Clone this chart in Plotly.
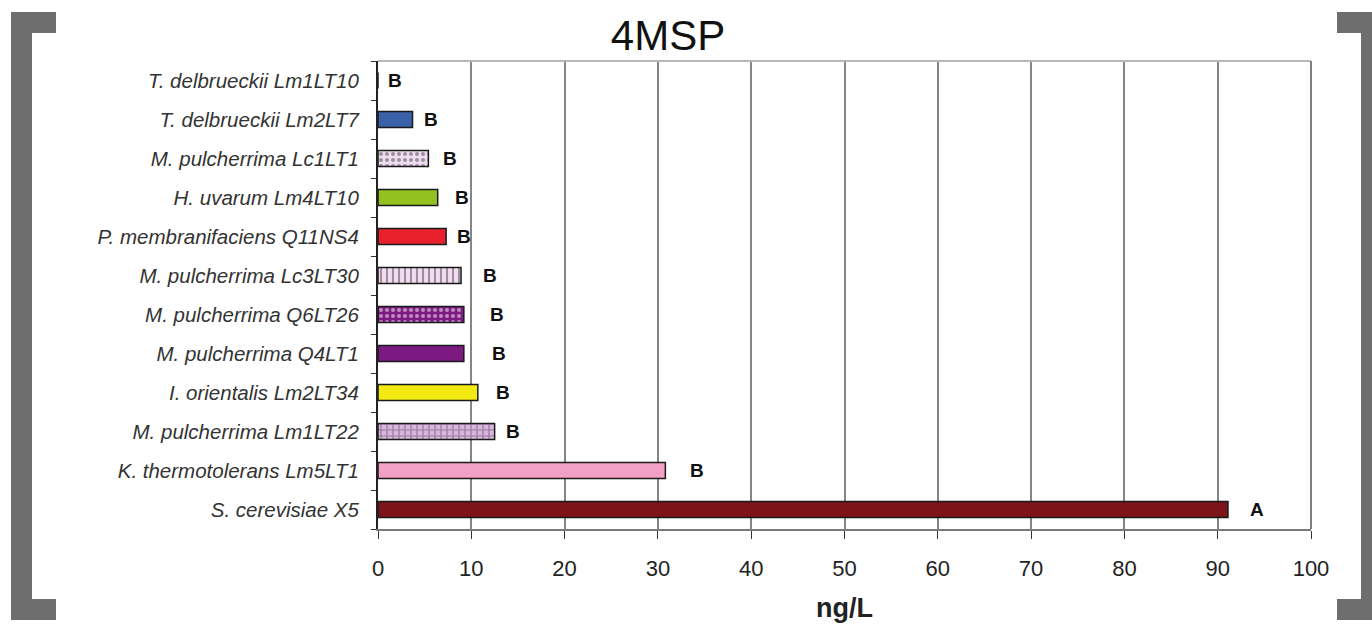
import plotly.graph_objects as go

# Yeast strains, listed top to bottom
strains = [
    "T. delbrueckii Lm1LT10",
    "T. delbrueckii Lm2LT7",
    "M. pulcherrima Lc1LT1",
    "H. uvarum Lm4LT10",
    "P. membranifaciens Q11NS4",
    "M. pulcherrima Lc3LT30",
    "M. pulcherrima Q6LT26",
    "M. pulcherrima Q4LT1",
    "I. orientalis Lm2LT34",
    "M. pulcherrima Lm1LT22",
    "K. thermotolerans Lm5LT1",
    "S. cerevisiae X5",
]
# 4MSP concentration (ng/L)
values = [0.0, 3.7, 5.4, 6.4, 7.3, 8.9, 9.2, 9.2, 10.7, 12.5, 30.8, 91.1]
# standard deviation, used to place the significance letters
sd = [0.6, 0.8, 1.1, 1.4, 0.7, 1.9, 2.4, 2.6, 1.5, 0.8, 2.2, 1.9]
# significance groups
letters = ["B", "B", "B", "B", "B", "B", "B", "B", "B", "B", "B", "A"]

# fill colours and patterns of each bar
fills = ["#ffffff", "#3a62a8", "#f0dcf0", "#93c11f", "#e8202b", "#f2dcf2",
         "#7d1a82", "#7d1a82", "#f2ea12", "#dcb4e2", "#f3a0c6", "#7c1419"]
pattern_shapes = ["", "", ".", "", "", "|", ".", "", "", "+", "", ""]
pattern_fg = ["#000", "#000", "#a050b0", "#000", "#000", "#8a2a96", "#c070c8",
              "#000", "#000", "#f8eaf8", "#000", "#000"]

FONT = "Liberation Sans, Arial"
W, H = 1372, 624
L, R, T, B = 378, 61, 61, 95
pw, ph = W - L - R, H - T - B


def px(x):
    return (x - L) / pw


def py(y):
    return (H - B - y) / ph


fig = go.Figure()
fig.add_trace(go.Bar(
    y=strains, x=values, orientation="h", width=0.41,
    marker=dict(
        color=fills,
        line=dict(color="#1a1a1a", width=1.5),
        pattern=dict(shape=pattern_shapes, fgcolor=pattern_fg,
                     bgcolor=fills, size=6, solidity=0.35),
    ),
    hoverinfo="x+y",
))

for s, v, e, t in zip(strains, values, sd, letters):
    fig.add_annotation(x=v + e, y=s, text="<b>%s</b>" % t, showarrow=False,
                       xanchor="left", xshift=2,
                       font=dict(family=FONT, size=19, color="#111"))

gray = "#6e6e6e"
shapes = []
# decorative brackets at left and right
for x0, x1, y0, y1 in [
    (11, 32, 12, 620), (11, 56, 12, 33), (11, 56, 599, 620),
    (1361, 1372, 12, 620), (1337, 1372, 12, 33), (1337, 1372, 599, 620),
]:
    shapes.append(dict(type="rect", xref="paper", yref="paper",
                       x0=px(x0), x1=px(x1), y0=py(y1), y1=py(y0),
                       fillcolor=gray, line=dict(width=0), layer="below"))
# plot frame: top and right
shapes.append(dict(type="line", xref="paper", yref="paper", x0=0, x1=1, y0=1, y1=1,
                   line=dict(color="#b8b8b8", width=2)))
shapes.append(dict(type="line", xref="paper", yref="paper", x0=1, x1=1, y0=0, y1=1,
                   line=dict(color="#808080", width=2)))

fig.update_layout(
    width=W, height=H,
    margin=dict(l=L, r=R, t=T, b=B, autoexpand=False),
    paper_bgcolor="white", plot_bgcolor="white",
    showlegend=False,
    bargap=0.6,
    shapes=shapes,
    title=dict(text="4MSP", xref="container", x=668 / W, xanchor="center",
               yref="container", y=1 - 35 / H, yanchor="middle",
               font=dict(family=FONT, size=42, color="#111")),
    xaxis=dict(
        range=[0, 100], dtick=10, tick0=0, automargin=False,
        showgrid=True, gridcolor="#858585", gridwidth=2,
        zeroline=False,
        showline=True, linecolor="#7a7a7a", linewidth=2,
        ticks="outside", ticklen=8, tickcolor="#333", tickwidth=1,
        ticklabelstandoff=11,
        tickfont=dict(family=FONT, size=22, color="#222"),
        title=dict(text="<b>ng/L</b>", standoff=18,
                   font=dict(family=FONT, size=27, color="#222")),
    ),
    yaxis=dict(
        categoryorder="array", categoryarray=strains[::-1], automargin=False,
        showgrid=False, zeroline=False,
        showline=True, linecolor="#222", linewidth=2,
        ticks="outside", ticklen=5, tickcolor="#333", tickson="boundaries",
        ticklabelstandoff=13,
        tickfont=dict(family=FONT, size=20.5, color="#333", style="italic"),
    ),
)

fig.write_html("out.html")
